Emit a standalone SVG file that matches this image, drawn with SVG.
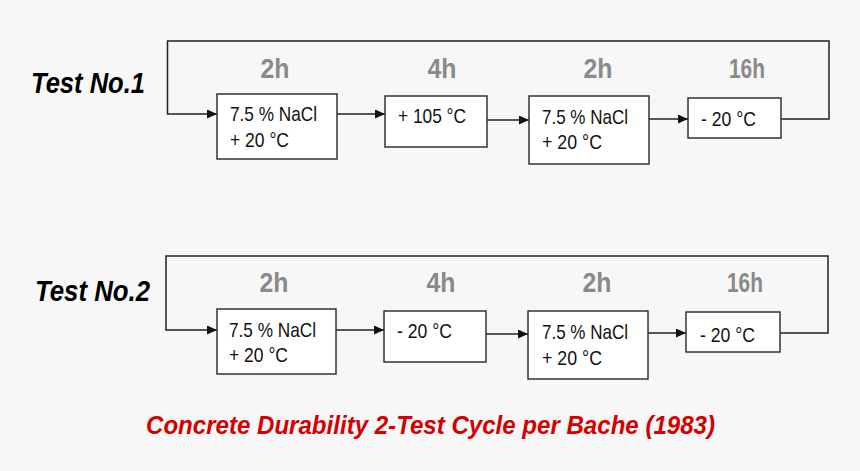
<svg xmlns="http://www.w3.org/2000/svg" width="860" height="471" viewBox="0 0 860 471">
<defs>
<style>
.bg{fill:#f7f7f7}
.box{fill:#ffffff;stroke:#333333;stroke-width:1.5}
.conn{fill:none;stroke:#222222;stroke-width:1.5}
.t{font-family:"Liberation Sans",Arial,sans-serif;font-size:21px;fill:#111111}
.dur{font-family:"Liberation Sans",Arial,sans-serif;font-size:28px;font-weight:bold;fill:#8a8a8a;text-anchor:middle}
.test{font-family:"Liberation Sans",Arial,sans-serif;font-size:29px;font-weight:bold;font-style:italic;fill:#000000}
.title{font-family:"Liberation Sans",Arial,sans-serif;font-size:26px;font-weight:bold;font-style:italic;fill:#d40000}
</style>
<marker id="arr" markerUnits="userSpaceOnUse" markerWidth="11" markerHeight="10" refX="10" refY="4.5" orient="auto">
<path d="M0,0 L10,4.5 L0,9 z" fill="#111111"/>
</marker>
</defs>
<rect class="bg" x="0" y="0" width="860" height="471"/>

<g id="connectors">
<path class="conn" d="M781,119 H829 V41 H167.5 V114 H217" marker-end="url(#arr)"/>
<path class="conn" d="M337,114 H385" marker-end="url(#arr)"/>
<path class="conn" d="M487,120 H529" marker-end="url(#arr)"/>
<path class="conn" d="M649,119 H688" marker-end="url(#arr)"/>
<path class="conn" d="M780,333 H828 V256 H166 V330 H217" marker-end="url(#arr)"/>
<path class="conn" d="M336,330 H384" marker-end="url(#arr)"/>
<path class="conn" d="M486,334 H528" marker-end="url(#arr)"/>
<path class="conn" d="M648,333 H686" marker-end="url(#arr)"/>
</g>

<g id="labels">
<text class="test" x="31" y="93" textLength="114" lengthAdjust="spacingAndGlyphs">Test No.1</text>
<text class="test" x="35" y="301" textLength="115" lengthAdjust="spacingAndGlyphs">Test No.2</text>
<text class="dur" x="275" y="78" textLength="29" lengthAdjust="spacingAndGlyphs">2h</text>
<text class="dur" x="442" y="78" textLength="29" lengthAdjust="spacingAndGlyphs">4h</text>
<text class="dur" x="598" y="78" textLength="29" lengthAdjust="spacingAndGlyphs">2h</text>
<text class="dur" x="747" y="78" textLength="36" lengthAdjust="spacingAndGlyphs">16h</text>
<text class="dur" x="274" y="292" textLength="29" lengthAdjust="spacingAndGlyphs">2h</text>
<text class="dur" x="441" y="292" textLength="29" lengthAdjust="spacingAndGlyphs">4h</text>
<text class="dur" x="597" y="292" textLength="29" lengthAdjust="spacingAndGlyphs">2h</text>
<text class="dur" x="745" y="292" textLength="36" lengthAdjust="spacingAndGlyphs">16h</text>
<text class="title" x="146" y="434" textLength="569" lengthAdjust="spacingAndGlyphs">Concrete Durability 2-Test Cycle per Bache (1983)</text>
</g>

<g id="t1-n1">
<rect class="box" x="217" y="94" width="120" height="65"/>
<text class="t" x="230" y="121" textLength="87" lengthAdjust="spacingAndGlyphs">7.5 % NaCl</text>
<text class="t" x="230" y="147" textLength="59" lengthAdjust="spacingAndGlyphs">+ 20 °C</text>
</g>
<g id="t1-n2">
<rect class="box" x="385" y="96" width="102" height="51"/>
<text class="t" x="398" y="123" textLength="68" lengthAdjust="spacingAndGlyphs">+ 105 °C</text>
</g>
<g id="t1-n3">
<rect class="box" x="529" y="96" width="120" height="68"/>
<text class="t" x="542" y="124" textLength="86" lengthAdjust="spacingAndGlyphs">7.5 % NaCl</text>
<text class="t" x="542" y="149" textLength="60" lengthAdjust="spacingAndGlyphs">+ 20 °C</text>
</g>
<g id="t1-n4">
<rect class="box" x="688" y="98" width="93" height="40"/>
<text class="t" x="701" y="126" textLength="55" lengthAdjust="spacingAndGlyphs">- 20 °C</text>
</g>

<g id="t2-n1">
<rect class="box" x="217" y="309" width="119" height="65"/>
<text class="t" x="229" y="337" textLength="87" lengthAdjust="spacingAndGlyphs">7.5 % NaCl</text>
<text class="t" x="229" y="362" textLength="59" lengthAdjust="spacingAndGlyphs">+ 20 °C</text>
</g>
<g id="t2-n2">
<rect class="box" x="384" y="311" width="102" height="51"/>
<text class="t" x="397" y="338" textLength="55" lengthAdjust="spacingAndGlyphs">- 20 °C</text>
</g>
<g id="t2-n3">
<rect class="box" x="528" y="311" width="120" height="68"/>
<text class="t" x="542" y="339" textLength="86" lengthAdjust="spacingAndGlyphs">7.5 % NaCl</text>
<text class="t" x="542" y="365" textLength="60" lengthAdjust="spacingAndGlyphs">+ 20 °C</text>
</g>
<g id="t2-n4">
<rect class="box" x="686" y="312" width="94" height="40"/>
<text class="t" x="700" y="342" textLength="55" lengthAdjust="spacingAndGlyphs">- 20 °C</text>
</g>
</svg>
